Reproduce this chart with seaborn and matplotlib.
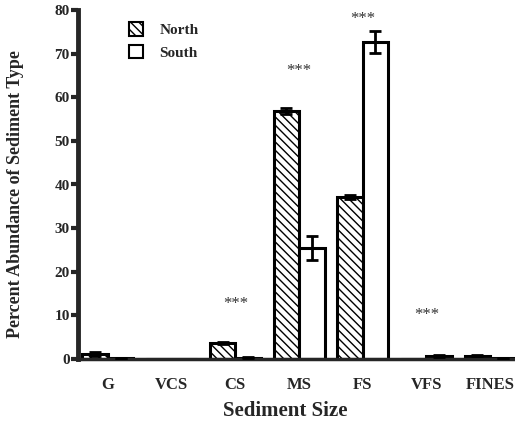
import matplotlib
matplotlib.use("Agg")
import matplotlib.pyplot as plt
import seaborn as sns
import pandas as pd
import numpy as np

# Sediment size classes and mean percent abundance (with SE) per site
categories = ["G", "VCS", "CS", "MS", "FS", "VFS", "FINES"]
north_mean = [1.2, 0.1, 3.7, 56.8, 37.2, 0.1, 0.8]
south_mean = [0.2, 0.1, 0.3, 25.5, 72.6, 0.7, 0.2]
north_err = [0.4, 0.0, 0.3, 0.7, 0.5, 0.0, 0.2]
south_err = [0.1, 0.0, 0.1, 2.8, 2.5, 0.2, 0.1]
sites = ["North", "South"]

# significance markers: (category, height)
sig_labels = [("CS", 12.5), ("MS", 66.0), ("FS", 78.0), ("VFS", 10.0)]

df = pd.DataFrame({
    "size": categories * 2,
    "site": [sites[0]] * len(categories) + [sites[1]] * len(categories),
    "pct": north_mean + south_mean,
})

sns.set_style("ticks")
plt.rcParams["font.family"] = ["Liberation Serif", "DejaVu Serif"]
plt.rcParams["hatch.linewidth"] = 1.0

fig = plt.figure(figsize=(5.15, 4.23), dpi=100)
ax = fig.add_axes([78 / 515, 64 / 423, 437 / 515, 349 / 423])

sns.barplot(data=df, x="size", y="pct", hue="site", order=categories,
            hue_order=sites, palette=["white", "white"], width=0.8,
            edgecolor="black", linewidth=2.2, errorbar=None, ax=ax,
            saturation=1)

n = len(categories)
bars = list(ax.patches)[: 2 * n]
means = north_mean + south_mean
errs = north_err + south_err
for i, (p, e, v) in enumerate(zip(bars, errs, means)):
    if i < n:
        p.set_hatch("\\\\\\\\")
    cx = p.get_x() + p.get_width() / 2
    if e > 0:
        ax.errorbar(cx, v, yerr=e, color="black", capsize=4, capthick=2,
                    elinewidth=2, zorder=5)

for cat, h in sig_labels:
    ax.text(categories.index(cat), h, "***", ha="center", va="center",
            fontsize=12, color="#333333")

ax.set_xlim(-0.47, 6.39)
ax.set_ylim(0, 80)
ax.set_yticks(range(0, 81, 10))
ax.tick_params(axis="y", direction="out", length=5, width=3, labelsize=11,
               pad=1)
ax.tick_params(axis="x", length=0, labelsize=12, pad=13)
for lab in ax.get_xticklabels() + ax.get_yticklabels():
    lab.set_fontweight("bold")

ax.set_xlabel("Sediment Size", fontsize=15, fontweight="bold")
ax.xaxis.set_label_coords(0.474, -0.12)
ax.set_ylabel("Percent Abundance of Sediment Type", fontsize=13,
              fontweight="bold")
ax.yaxis.set_label_coords(-0.124, 0.473)

for side in ["top", "right"]:
    ax.spines[side].set_visible(False)
ax.spines["left"].set_linewidth(3.5)
ax.spines["bottom"].set_linewidth(2.5)

handles, labels = ax.get_legend_handles_labels()
handles[0].set_hatch("\\\\\\\\")
for h in handles:
    h.set_edgecolor("black")
    h.set_linewidth(1.5)
leg = ax.legend(handles, labels, loc="upper left",
                bbox_to_anchor=(0.085, 1.005), frameon=False,
                prop={"weight": "bold", "size": 11}, handlelength=0.9,
                handleheight=1.0, handletextpad=1.1, labelspacing=0.5)

fig.savefig("out.png", dpi=100)
